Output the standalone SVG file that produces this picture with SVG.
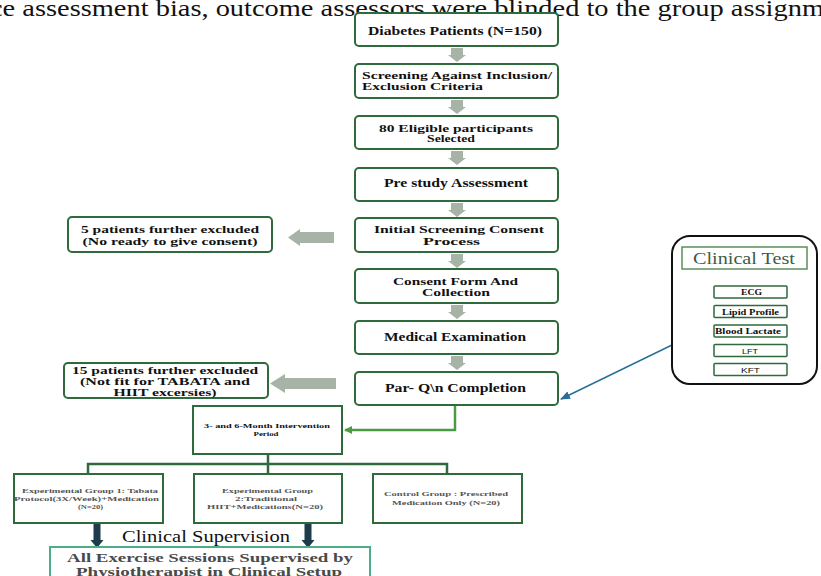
<svg xmlns="http://www.w3.org/2000/svg" width="821" height="576" viewBox="0 0 821 576">
<style>
.bx{fill:#fff;stroke:#2e6a3c;stroke-width:2}
.t{font-family:"Liberation Serif","Times New Roman",serif;font-weight:bold;fill:#111;text-anchor:middle}
.m{font-size:12px}
.m2{font-size:11px}
.g{font-size:7px;fill:#555}
.s{font-size:7.5px}
.ss{font-family:"Liberation Sans",Arial,sans-serif;font-weight:normal}
.ga{fill:#a7b3a6}
.na{fill:#1e3b4c}
</style>
<defs>
<path id="darr" d="M-6,0 H6 V7 H9 L0,14 L-9,7 H-6 Z"/>
<path id="sarr" d="M-1.5,0 H1.5 V3 H3 L0,6 L-3,3 H-1.5 Z"/>
<marker id="mg" markerWidth="8" markerHeight="8" refX="7" refY="4" orient="auto" markerUnits="userSpaceOnUse"><path d="M0,0 L8,4 L0,8 Z" fill="#4c9a43"/></marker>
<marker id="mb" markerWidth="10" markerHeight="8" refX="9" refY="4" orient="auto" markerUnits="userSpaceOnUse"><path d="M0,0 L10,4 L0,8 Z" fill="#2a6f97"/></marker>
</defs>

<text x="-10" y="16" font-family="'Liberation Serif','Times New Roman',serif" font-size="23" fill="#111" textLength="834" lengthAdjust="spacingAndGlyphs">ce assessment bias, outcome assessors were blinded to the group assignm</text>

<g id="connectors">
<use href="#darr" x="457" y="48" class="ga"/>
<use href="#darr" x="457" y="100" class="ga"/>
<use href="#darr" x="457" y="151" class="ga"/>
<use href="#darr" x="457" y="203" class="ga"/>
<use href="#darr" x="457" y="254" class="ga"/>
<use href="#darr" x="457" y="305" class="ga"/>
<use href="#darr" x="457" y="356" class="ga"/>
<path class="ga" d="M334,232 V243 H300 V246 L288,237.5 L300,229 V232 Z"/>
<path class="ga" d="M336,378 V389 H285 V393 L270,383.5 L285,374 V378 Z"/>
<path d="M455,406 V430 H345" fill="none" stroke="#4c9a43" stroke-width="2.5" marker-end="url(#mg)"/>
<path d="M672,345 L561,399" fill="none" stroke="#2a6f97" stroke-width="1.5" marker-end="url(#mb)"/>
<path d="M268,455 V474 M88,474 V464 H447 V474" fill="none" stroke="#2e6a3c" stroke-width="2.5"/>
<path class="na" d="M93.5,523 H100.5 V540 H103.5 L97,548 L90.5,540 H93.5 Z"/>
<path class="na" d="M304.5,523 H311.5 V540 H314.5 L308,548 L301.5,540 H304.5 Z"/>
<use href="#sarr" x="750" y="299" class="ga"/>
<use href="#sarr" x="750" y="318.5" class="ga"/>
<use href="#sarr" x="750" y="338" class="ga"/>
<use href="#sarr" x="750" y="357" class="ga"/>
</g>

<g id="n1"><rect class="bx" x="355" y="13" width="203" height="33" rx="4"/>
<text class="t m" x="455" y="34.5" textLength="174" lengthAdjust="spacingAndGlyphs">Diabetes Patients (N=150)</text></g>
<g id="n2"><rect class="bx" x="355" y="64" width="203" height="34" rx="4"/>
<text class="t m2" x="362" y="79" style="text-anchor:start" textLength="190" lengthAdjust="spacingAndGlyphs">Screening Against Inclusion/</text>
<text class="t m2" x="362" y="90" style="text-anchor:start" textLength="121" lengthAdjust="spacingAndGlyphs">Exclusion Criteria</text></g>
<g id="n3"><rect class="bx" x="355" y="116" width="203" height="33" rx="4"/>
<text class="t m2" x="456" y="131.5" textLength="154" lengthAdjust="spacingAndGlyphs">80 Eligible participants</text>
<text class="t m2" x="451" y="142" textLength="48" lengthAdjust="spacingAndGlyphs">Selected</text></g>
<g id="n4"><rect class="bx" x="355" y="168" width="203" height="33" rx="4"/>
<text class="t m" x="456" y="187" textLength="144" lengthAdjust="spacingAndGlyphs">Pre study Assessment</text></g>
<g id="n5"><rect class="bx" x="355" y="218" width="203" height="34" rx="4"/>
<text class="t m2" x="459" y="233" textLength="170" lengthAdjust="spacingAndGlyphs">Initial Screening Consent</text>
<text class="t m2" x="451.5" y="245" textLength="57" lengthAdjust="spacingAndGlyphs">Process</text></g>
<g id="n6"><rect class="bx" x="355" y="269" width="203" height="34" rx="4"/>
<text class="t m2" x="455.5" y="285" textLength="125" lengthAdjust="spacingAndGlyphs">Consent Form And</text>
<text class="t m2" x="456" y="296" textLength="68" lengthAdjust="spacingAndGlyphs">Collection</text></g>
<g id="n7"><rect class="bx" x="355" y="321" width="203" height="33" rx="4"/>
<text class="t m" x="455" y="341" textLength="142" lengthAdjust="spacingAndGlyphs">Medical Examination</text></g>
<g id="n8"><rect class="bx" x="355" y="372" width="203" height="33" rx="4"/>
<text class="t m" x="455.5" y="392" textLength="141" lengthAdjust="spacingAndGlyphs">Par- Q\n Completion</text></g>

<g id="ex1"><rect class="bx" x="68" y="217" width="204" height="35" rx="4"/>
<text class="t m2" x="170" y="233" textLength="178" lengthAdjust="spacingAndGlyphs">5 patients further excluded</text>
<text class="t m2" x="170" y="245" textLength="175" lengthAdjust="spacingAndGlyphs">(No ready to give consent)</text></g>
<g id="ex2"><rect class="bx" x="64" y="363" width="204" height="35" rx="4"/>
<text class="t" font-size="10.5" x="165" y="374" textLength="186" lengthAdjust="spacingAndGlyphs">15 patients further excluded</text>
<text class="t" font-size="10.5" x="165" y="385" textLength="170" lengthAdjust="spacingAndGlyphs">(Not fit for TABATA and</text>
<text class="t" font-size="10.5" x="165" y="396" textLength="103" lengthAdjust="spacingAndGlyphs">HIIT excersies)</text></g>

<g id="clinical">
<rect x="672" y="236" width="145" height="148" rx="18" fill="#fff" stroke="#111" stroke-width="2"/>
<rect x="682" y="247" width="125" height="22" fill="#fff" stroke="#5c8f5c" stroke-width="1.5"/>
<text x="744" y="264" font-family="'Liberation Serif','Times New Roman',serif" font-size="17" fill="#3e5a48" text-anchor="middle" textLength="102" lengthAdjust="spacingAndGlyphs">Clinical Test</text>
<g id="ecg"><rect class="bx" style="stroke-width:1.5" x="714" y="286" width="73" height="12" rx="1"/><text class="t s" x="751.5" y="295" textLength="21" lengthAdjust="spacingAndGlyphs">ECG</text></g>
<g id="lipid"><rect class="bx" style="stroke-width:1.5" x="714" y="305.5" width="73" height="12" rx="1"/><text class="t s" x="750.5" y="314.5" textLength="57" lengthAdjust="spacingAndGlyphs">Lipid Profile</text></g>
<g id="lactate"><rect class="bx" style="stroke-width:1.5" x="714" y="325" width="73" height="12" rx="1"/><text class="t s" x="748" y="334" textLength="66" lengthAdjust="spacingAndGlyphs">Blood Lactate</text></g>
<g id="lft"><rect class="bx" style="stroke-width:1.5" x="714" y="344.5" width="73" height="12" rx="1"/><text class="t s ss" x="750" y="353.5" textLength="16" lengthAdjust="spacingAndGlyphs">LFT</text></g>
<g id="kft"><rect class="bx" style="stroke-width:1.5" x="714" y="363.5" width="73" height="12" rx="1"/><text class="t s ss" x="750.5" y="372.5" textLength="19" lengthAdjust="spacingAndGlyphs">KFT</text></g>
</g>

<g id="intervention"><rect x="193" y="406" width="149" height="48" fill="#fff" stroke="#2e6a3c" stroke-width="2"/>
<text class="t" font-size="7" x="267" y="428" textLength="126" lengthAdjust="spacingAndGlyphs">3- and 6-Month Intervention</text>
<text class="t" font-size="7" x="266" y="435.5" textLength="25" lengthAdjust="spacingAndGlyphs">Period</text></g>

<g id="grp1"><rect x="14" y="474" width="149" height="49" fill="#fff" stroke="#2e6a3c" stroke-width="2"/>
<text class="t g" x="90" y="493" textLength="136" lengthAdjust="spacingAndGlyphs">Experimental Group 1: Tabata</text>
<text class="t g" x="86.5" y="500.5" textLength="145" lengthAdjust="spacingAndGlyphs">Protocol(3X/Week)+Medication</text>
<text class="t g" x="90.5" y="508.5" textLength="25" lengthAdjust="spacingAndGlyphs">(N=20)</text></g>
<g id="grp2"><rect x="194" y="474" width="148" height="49" fill="#fff" stroke="#2e6a3c" stroke-width="2"/>
<text class="t g" x="267.5" y="493" textLength="91" lengthAdjust="spacingAndGlyphs">Experimental Group</text>
<text class="t g" x="266" y="500.5" textLength="62" lengthAdjust="spacingAndGlyphs">2:Traditional</text>
<text class="t g" x="265" y="508.5" textLength="116" lengthAdjust="spacingAndGlyphs">HIIT+Medications(N=20)</text></g>
<g id="grp3"><rect x="373" y="474" width="149" height="49" fill="#fff" stroke="#2e6a3c" stroke-width="2"/>
<text class="t g" x="446" y="496" textLength="124" lengthAdjust="spacingAndGlyphs">Control Group : Prescribed</text>
<text class="t g" x="446" y="504.5" textLength="108" lengthAdjust="spacingAndGlyphs">Medication Only (N=20)</text></g>

<text x="206" y="542" font-family="'Liberation Serif','Times New Roman',serif" font-size="17" fill="#111" text-anchor="middle" textLength="168" lengthAdjust="spacingAndGlyphs">Clinical  Supervision</text>

<g id="supervised"><rect x="50" y="547" width="320" height="40" fill="#fff" stroke="#4cae86" stroke-width="2"/>
<text class="t" font-size="13" style="fill:#4a4a4a" x="210" y="562" textLength="286" lengthAdjust="spacingAndGlyphs">All Exercise Sessions Supervised by</text>
<text class="t" font-size="13" style="fill:#4a4a4a" x="209" y="575.5" textLength="266" lengthAdjust="spacingAndGlyphs">Physiotherapist in Clinical Setup</text></g>
</svg>
